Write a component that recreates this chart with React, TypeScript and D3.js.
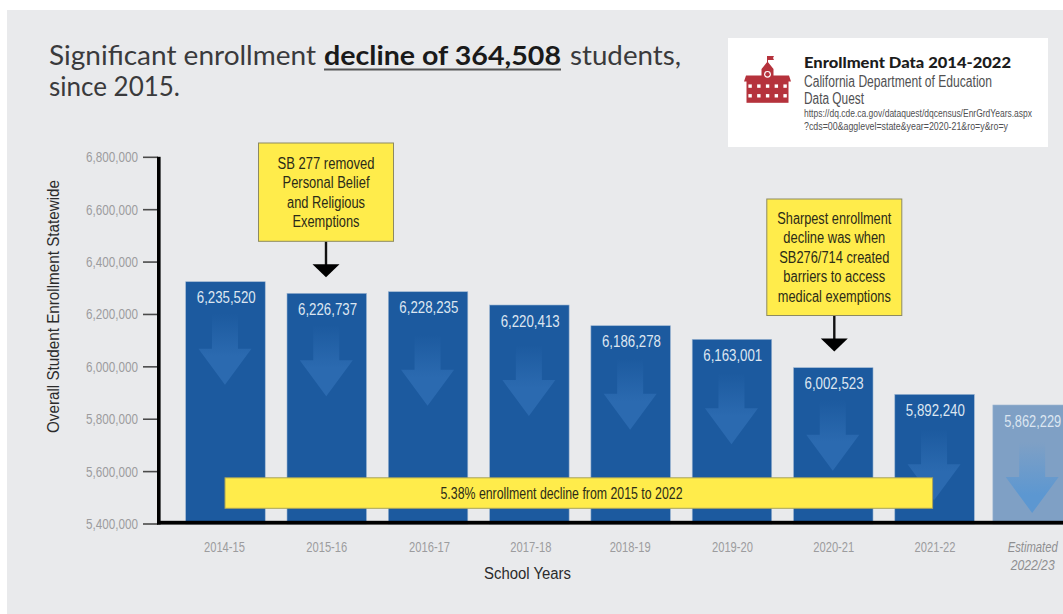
import React from "react";
import * as d3 from "d3";

const categories = ["2014-15", "2015-16", "2016-17", "2017-18", "2018-19", "2019-20", "2020-21", "2021-22", "Estimated 2022/23"];
const barHeightValues = [6325000, 6280700, 6286800, 6236100, 6157000, 6105100, 5996700, 5895000, 5854300];
const valueLabels = ["6,235,520", "6,226,737", "6,228,235", "6,220,413", "6,186,278", "6,163,001", "6,002,523", "5,892,240", "5,862,229"];
const yTicks = [5400000, 5600000, 5800000, 6000000, 6200000, 6400000, 6600000, 6800000];
const note1 = ["SB 277 removed", "Personal Belief", "and Religious", "Exemptions"];
const note1Widths = [97, 87, 78, 67];
const note2 = ["Sharpest enrollment", "decline was when", "SB276/714 created", "barriers to access", "medical exemptions"];
const note2Widths = [114, 102, 110, 102, 113];

const W = 1063, H = 614;
const COND = "'Liberation Sans Narrow','Liberation Sans',Arial,sans-serif";
const TITLE = "Lato,'Open Sans',sans-serif";
const BAR = "#1C5A9F", ARROW = "#2B6AB0", BAR_EST = "#7FA0C5", ARROW_EST = "#5C97D1", YEL = "#FFEC4B", TICK = "#9C9C9E";

const STEP = 101.3, PAD = 0.215;
const y = d3.scaleLinear().domain([5400000, 6800000]).range([524, 157.3]);
const x = d3.scaleBand<string>().domain(categories).range([185.7, 185.7 + (9 - PAD) * STEP]).paddingInner(PAD).paddingOuter(0);
const ESTIMATE_SHIFT = -3.2;
const barX = (c: string) => (x(c) as number) + (c.startsWith("Est") ? ESTIMATE_SHIFT : 0);
const fmt = d3.format(",");
const arrowDrop = [0, 0, 11, 8, 1, 2, 0, 3, 5];
const labelNudge = [-0.5, 0.5, 2, 2, 0, 1, 1, 1, 0.5];

function Fit({ w, anchor = "middle", ...p }: any) {
  return <text textAnchor={anchor} textLength={w} lengthAdjust="spacingAndGlyphs" {...p} />;
}

function Note({ cx, yTop, yBottom, width, lines, widths, firstBase, gap, arrowLen }: any) {
  const path = d3.path();
  const tipBase = yBottom + arrowLen;
  path.moveTo(cx - 13.5, tipBase);
  path.lineTo(cx + 13.5, tipBase);
  path.lineTo(cx, tipBase + 13);
  path.closePath();
  return (
    <g>
      <line x1={cx} x2={cx} y1={yBottom} y2={tipBase + 2} stroke="#111" strokeWidth={2.4} />
      <path d={path.toString()} fill="#000" />
      <rect x={cx - width / 2} y={yTop} width={width} height={yBottom - yTop} fill={YEL} stroke="#8d8a62" strokeWidth={1} />
      {lines.map((l: string, i: number) => (
        <Fit key={l} x={cx} y={firstBase + i * gap} w={widths[i]} fontFamily={COND} fontSize={16} fill="#2b2b18">{l}</Fit>
      ))}
    </g>
  );
}

function Arrow({ c, i, top }: { c: string; i: number; top: number }) {
  const cx = barX(c) + x.bandwidth() / 2 - 0.5;
  const est = c.startsWith("Est");
  const off = arrowDrop[i];
  const s = top + 32 + off, h = top + 67 + off, t = top + 103 + off;
  const p = d3.path();
  p.moveTo(cx - 13, s); p.lineTo(cx + 13, s); p.lineTo(cx + 13, h); p.lineTo(cx + 26.5, h);
  p.lineTo(cx, t); p.lineTo(cx - 26.5, h); p.lineTo(cx - 13, h); p.closePath();
  return <path d={p.toString()} fill={`url(#${est ? "arrEst" : "arr"})`} />;
}

export default function App() {
  const barW = x.bandwidth();
  return (
    <svg width={W} height={H} viewBox={`0 0 ${W} ${H}`} style={{ position: "absolute", left: 0, top: 0 }}>
      <defs>
        <linearGradient id="arr" x1="0" x2="0" y1="0" y2="1">
          <stop offset="0" stopColor={BAR} />
          <stop offset="0.6" stopColor={ARROW} />
        </linearGradient>
        <linearGradient id="arrEst" x1="0" x2="0" y1="0" y2="1">
          <stop offset="0" stopColor={BAR_EST} />
          <stop offset="0.75" stopColor={ARROW_EST} />
        </linearGradient>
      </defs>
      <rect width={W} height={H} fill="#fff" />
      <rect x={7} y={10} width={W - 7} height={H - 10} fill="#E9EAEC" />

      {/* title */}
      <g fontFamily={TITLE} fontSize={26} fontWeight={400} fill="#3a3a3c">
        <Fit anchor="start" x={49} y={65} w={267}>Significant enrollment</Fit>
        <Fit anchor="start" x={324} y={65} w={237} fontWeight={700} fill="#1a1a1a">decline of 364,508</Fit>
        <Fit anchor="start" x={570} y={65} w={111}>students,</Fit>
        <Fit anchor="start" x={49} y={96} w={131}>since 2015.</Fit>
      </g>
      <rect x={324} y={68.5} width={237} height={2} fill="#555" />

      {/* source card */}
      <rect x={728} y={38} width={320} height={109} fill="#fff" />
      <g fill="#B5323C">
        <rect x={767} y={56} width={1} height={10} />
        <path d="M768 56h6l-1 2 1 2h-6z" />
        <path d="M767.5 61.5 L773.5 69 V75.5 H789 L791 81.5 H744 L746 75.5 H761.5 V69 Z" />
        <rect x={746.5} y={81} width={42} height={21.8} />
      </g>
      <circle cx={767.5} cy={74.3} r={3.4} fill="#fff" />
      <circle cx={767.5} cy={74.3} r={2.2} fill="#B5323C" />
      <g fill="#fff">
        {[0, 1, 2, 3, 4].map((col) =>
          [0, 1].map((row) => <rect key={`${col}-${row}`} x={748.4 + col * 8.75} y={84.4 + row * 9.7} width={3.4} height={3.4} />)
        )}
      </g>
      <Fit anchor="start" x={804} y={67.5} w={207} fontFamily={TITLE} fontWeight={900} fontSize={14.5} fill="#1c1c1c">Enrollment Data 2014-2022</Fit>
      <g fontFamily={COND} fill="#505052">
        <Fit anchor="start" x={804} y={86.5} w={188} fontSize={16}>California Department of Education</Fit>
        <Fit anchor="start" x={804} y={104} w={60} fontSize={16}>Data Quest</Fit>
        <Fit anchor="start" x={804} y={116.5} w={228} fontSize={10}>https://dq.cde.ca.gov/dataquest/dqcensus/EnrGrdYears.aspx</Fit>
        <Fit anchor="start" x={804} y={130} w={204} fontSize={10}>?cds=00&amp;agglevel=state&amp;year=2020-21&amp;ro=y&amp;ro=y</Fit>
      </g>

      {/* bars */}
      {categories.map((c, i) => {
        const top = y(barHeightValues[i]);
        const est = c.startsWith("Est");
        return (
          <g key={c}>
            <rect x={barX(c)} y={top} width={barW} height={y(5400000) - top} fill={est ? BAR_EST : BAR} stroke="#9db6d2" strokeWidth={0.6} />
            <Arrow c={c} i={i} top={top} />
            <Fit x={barX(c) + barW / 2 + (est ? 0 : 0.8)} y={top + 21.6} w={est ? 57 : 59} fontFamily={COND} fontSize={16} fill="#DCE6F1">{valueLabels[i]}</Fit>
          </g>
        );
      })}

      {/* y axis */}
      {yTicks.map((t) => (
        <g key={t}>
          <line x1={143} x2={158} y1={y(t)} y2={y(t)} stroke="#4a4a4a" strokeWidth={1.6} />
          <Fit anchor="end" x={138} y={y(t) + 5} w={52} fontFamily={COND} fontSize={15} fill={TICK}>{fmt(t)}</Fit>
        </g>
      ))}
      <rect x={157} y={y(6800000) - 0.5} width={3.6} height={y(5400000) - y(6800000) + 1} fill="#000" />
      <rect x={157} y={520.8} width={W - 157} height={3.8} fill="#000" />
      <Fit transform="translate(59,306.5) rotate(-90)" x={0} y={0} w={253} fontFamily={COND} fontSize={16} fill="#2b2b2b">Overall Student Enrollment Statewide</Fit>

      {/* x labels */}
      {categories.map((c, i) => {
        const cx = barX(c) + barW / 2 + labelNudge[i] - 0.5;
        if (c.startsWith("Est")) {
          const [a, b] = c.split(" ");
          return (
            <g key={c} fontFamily={COND} fontSize={15} fontStyle="italic" fill="#8f8f91">
              <Fit x={cx} y={552} w={50}>{a}</Fit>
              <Fit x={cx} y={570} w={44}>{b}</Fit>
            </g>
          );
        }
        return <Fit key={c} x={cx} y={552} w={41} fontFamily={COND} fontSize={15} fill={TICK}>{c}</Fit>;
      })}
      <Fit x={527.5} y={579} w={87} fontFamily={COND} fontSize={16} fill="#2b2b2b">School Years</Fit>

      {/* annotations */}
      <Note cx={326} yTop={143} yBottom={241.3} width={135} lines={note1} widths={note1Widths} firstBase={168.5} gap={19.5} arrowLen={23} />
      <Note cx={834.3} yTop={199} yBottom={315.5} width={135} lines={note2} widths={note2Widths} firstBase={224} gap={19.4} arrowLen={23} />
      <rect x={225} y={477.8} width={707.6} height={30.5} fill={YEL} stroke="#a8a35a" strokeWidth={1} />
      <Fit x={561.5} y={498.5} w={242} fontFamily={COND} fontSize={16} fill="#2b2b18">5.38% enrollment decline from 2015 to 2022</Fit>
    </svg>
  );
}
